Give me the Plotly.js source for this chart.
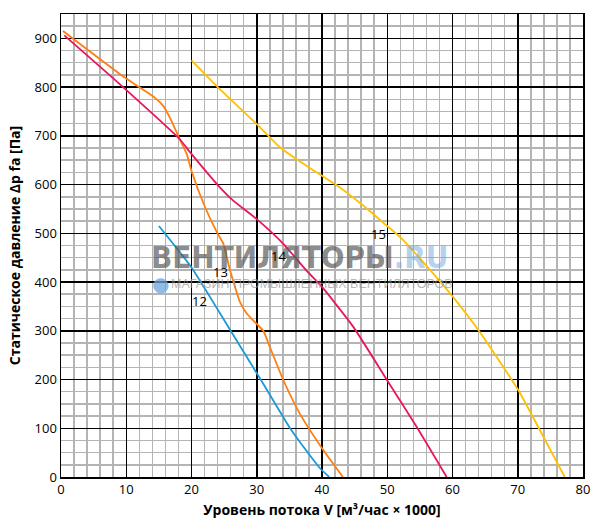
<!DOCTYPE html>
<html>
<head>
<meta charset="utf-8">
<script src="https://cdn.plot.ly/plotly-3.0.1.min.js"></script>
<style>
  body { margin: 0; background: #fff; }
  #chart { width: 600px; height: 528px; }
</style>
</head>
<body>
<div id="chart"></div>
<script>
  // fan curves
  let x12 = [15, 20, 26, 30.6, 35.1, 36.6, 38, 39.7, 41.1];
  let y12 = [515, 430, 300, 200, 100, 72, 47, 18, 0];

  let x13 = [0.3, 9, 12.1, 14.4, 15.7, 16.7, 17.5, 18.2, 19.3, 20, 22.1, 23.9, 24.9, 25.9, 26.7, 27.4, 28.5, 30, 31, 32, 34.1, 36.6, 40, 43.2];
  let y13 = [915, 827, 799, 778, 761, 737, 714, 693, 662, 628, 553, 502, 478, 424, 389, 360, 335, 314, 300, 267, 198, 130, 59, 0];

  let x14 = [0.5, 9, 18.2, 19.8, 24.1, 26.4, 30, 34.1, 37.6, 40, 44.8, 50, 54.5, 59.1];
  let y14 = [906, 806, 693, 666, 598, 567, 529, 478, 424, 390, 308, 198, 103, 0];

  let x15 = [20, 24.1, 30, 33.6, 36.1, 40, 42, 46.3, 49.9, 52, 55.3, 60.1, 64.2, 70.1, 73.4, 77.2];
  let y15 = [855, 799, 724, 676, 652, 618, 601, 557, 516, 492, 444, 369, 297, 178, 96, 0];

  let names = ["12", "13", "14", "15"];
  let colors = ["#1b9ad8", "#ff7f0e", "#e8175d", "#ffc000"];
  let labelX = [21.3, 24.4, 33.3, 48.6];
  let labelY = [362, 420, 454, 499];

  let xs = [x12, x13, x14, x15];
  let ys = [y12, y13, y14, y15];

  let traces = [];
  for (let i = 0; i < names.length; i++) {
    traces.push({
      x: xs[i],
      y: ys[i],
      name: names[i],
      mode: "lines",
      line: { color: colors[i], width: 1.8, shape: "spline", smoothing: 0.5 },
      hoverinfo: "skip",
    });
  }

  let annotations = [
    {
      x: 36.5, y: 452, xref: "x", yref: "y", showarrow: false,
      text: "<b>ВЕНТИЛЯТОРЫ</b><b style=\"color:rgba(110,165,220,0.75)\">.RU</b>",
      font: { family: "Liberation Sans Narrow, DejaVu Sans Condensed, Liberation Sans", size: 31, weight: 700, color: "rgba(90,90,90,0.7)" },
    },
    {
      x: 38.4, y: 397, xref: "x", yref: "y", showarrow: false,
      text: "МАГАЗИН ПРОМЫШЛЕННЫХ ВЕНТИЛЯТОРОВ",
      font: { family: "Liberation Sans", size: 12.5, color: "rgba(150,150,150,0.7)" },
    },
    {
      x: 15.2, y: 397, xref: "x", yref: "y", showarrow: false,
      text: "●",
      font: { family: "DejaVu Sans", size: 20, color: "rgba(110,165,220,0.75)" },
    },
  ];
  for (let i = 0; i < names.length; i++) {
    annotations.push({
      x: labelX[i], y: labelY[i], xref: "x", yref: "y", showarrow: false,
      text: names[i],
      font: { family: "Open Sans, sans-serif", size: 13, color: "#000" },
    });
  }

  let layout = {
    width: 600,
    height: 528,
    margin: { l: 61, r: 17, t: 14, b: 51 },
    paper_bgcolor: "#fff",
    plot_bgcolor: "#fff",
    showlegend: false,
    font: { family: "Open Sans, sans-serif", size: 13, color: "#000" },
    xaxis: {
      range: [0, 80],
      dtick: 10,
      tick0: 0,
      showgrid: true,
      gridcolor: "#000",
      gridwidth: 1.5,
      minor: { dtick: 2, showgrid: true, gridcolor: "#b4b4b4", gridwidth: 1.5 },
      zeroline: false,
      showline: true,
      linecolor: "#000",
      linewidth: 1.5,
      mirror: true,
      ticks: "",
      tickfont: { size: 13 },
      title: { text: "<b>Уровень потока V [м³/час × 1000]</b>", font: { size: 14 }, standoff: 8 },
    },
    yaxis: {
      range: [0, 950],
      dtick: 100,
      tick0: 0,
      showgrid: true,
      gridcolor: "#000",
      gridwidth: 1.5,
      minor: { dtick: 25, showgrid: true, gridcolor: "#b4b4b4", gridwidth: 1.5 },
      zeroline: false,
      showline: true,
      linecolor: "#000",
      linewidth: 1.5,
      mirror: true,
      ticks: "",
      tickfont: { size: 13 },
      title: { text: "<b>Статическое давление Δp fa [Па]</b>", font: { size: 14 }, standoff: 10 },
    },
    annotations: annotations,
  };

  Plotly.newPlot("chart", traces, layout, { displayModeBar: false, staticPlot: true });
</script>
</body>
</html>
